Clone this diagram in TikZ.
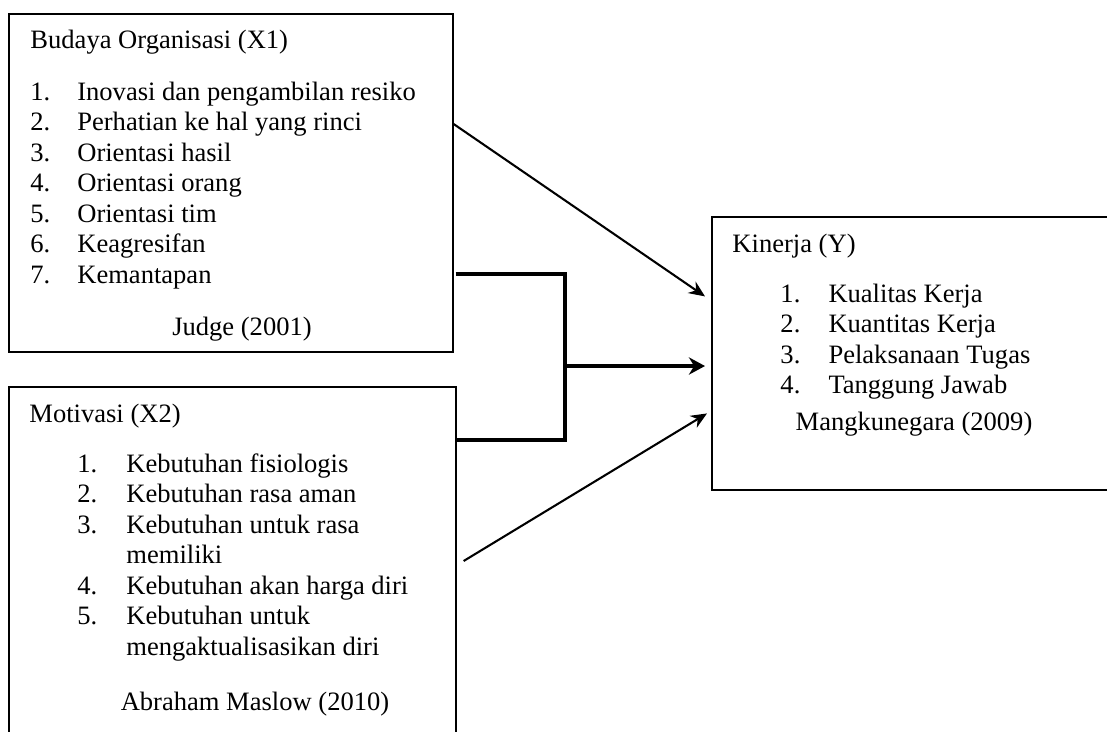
\documentclass[tikz,border=0pt]{standalone}
\usepackage{fontspec}
\setmainfont{Liberation Serif}
\usetikzlibrary{positioning}
\usetikzlibrary{arrows.meta}
\usetikzlibrary{calc}

\begin{document}
\begin{tikzpicture}[x=0.435pt, y=-0.435pt,
    panel/.style={draw, line width=0.75pt, rectangle, anchor=north west, inner sep=0pt},
    txt/.style={inner sep=0pt, anchor=base west, font=\fontsize{11.55pt}{13.27pt}\selectfont},
    cite/.style={txt, anchor=base},
    link/.style={-{Stealth[length=7pt, width=6pt]}, line width=0.9pt},
    joint/.style={line width=2.1pt}]
            % page frame
            \useasboundingbox (0,0) rectangle (1107,731);
            \clip (0,0) rectangle (1107,731);
            % the three variable boxes
            \node[panel, minimum width=193.1pt, minimum height=147pt] (budaya) at (8,13) {};
            \node[panel, minimum width=194.4pt, minimum height=167pt] (motivasi) at (8,386) {};
            \node[panel, minimum width=187pt, minimum height=118.8pt] (kinerja) at (711,216) {};
            
            % Budaya Organisasi
            \node[txt] (h1) at (30,48) {Budaya Organisasi (X1)};
            \node[txt] (l1) at (30,100) {\begin{tabular}[t]{@{}p{20.4pt}@{}l@{}}
                1. & Inovasi dan pengambilan resiko\\
                2. & Perhatian ke hal yang rinci\\
                3. & Orientasi hasil\\
                4. & Orientasi orang\\
                5. & Orientasi tim\\
                6. & Keagresifan\\
                7. & Kemantapan
            \end{tabular}};
            \node[cite] (s1) at (242,335) {Judge (2001)};
            
            % Motivasi
            \node[txt] (h2) at (29,422) {Motivasi (X2)};
            \node[txt] (l2) at (77,472) {\begin{tabular}[t]{@{}p{21.3pt}@{}l@{}}
                1. & Kebutuhan fisiologis\\
                2. & Kebutuhan rasa aman\\
                3. & Kebutuhan untuk rasa\\
                   & memiliki\\
                4. & Kebutuhan akan harga diri\\
                5. & Kebutuhan untuk\\
                   & mengaktualisasikan diri
            \end{tabular}};
            \node[cite] (s2) at (255,710) {Abraham Maslow (2010)};
            
            % Kinerja
            \node[txt] (h3) at (732,252) {Kinerja (Y)};
            \node[txt] (l3) at (780,302) {\begin{tabular}[t]{@{}p{20.9pt}@{}l@{}}
                1. & Kualitas Kerja\\
                2. & Kuantitas Kerja\\
                3. & Pelaksanaan Tugas\\
                4. & Tanggung Jawab
            \end{tabular}};
            \node[cite] (s3) at (914,430) {Mangkunegara (2009)};
            
            % connectors
            \coordinate (join) at (565,366);
            \draw[link] ($(budaya.north east)+(0,111)$) -- ($(kinerja.west)+(-6,-57)$);
            \draw[joint] ($(budaya.north east)+(2,261)$) -| (join) |- ($(motivasi.north east)+(0,54)$);
            \draw[link, line width=2.1pt, -{Stealth[length=7pt, width=7.5pt]}] (join) -- ($(join -| kinerja.west)+(-6,0)$);
            \draw[link] ($(motivasi.north east)+(7,175)$) -- ($(kinerja.west)+(-4,60)$);
\end{tikzpicture}
\end{document}
